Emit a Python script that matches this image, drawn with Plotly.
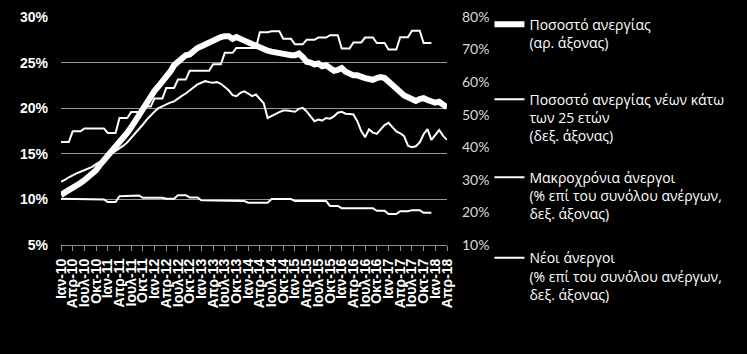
import plotly.graph_objects as go

month_abbr = ["Ιαν", "Φεβ", "Μαρ", "Απρ", "Μαϊ", "Ιουν", "Ιουλ", "Αυγ", "Σεπ", "Οκτ", "Νοε", "Δεκ"]
months = [f"{month_abbr[i % 12]}-{10 + i // 12}" for i in range(100)]
tick_labels = months[::3]

# Unemployment rate (left axis), monthly Jan-10 .. Apr-18
unemployment = [
    10.5, 10.8, 11.1, 11.4, 11.6, 11.8, 12.1, 12.4, 12.8, 13.2, 13.8, 14.3,
    14.8, 15.2, 15.7, 16.1, 16.7, 17.3, 17.9, 18.6, 19.4, 20.1, 20.7, 21.4,
    21.9, 22.4, 22.9, 23.4, 24.0, 24.7, 25.1, 25.3, 25.8, 25.9, 26.3, 26.6,
    26.8, 27.0, 27.3, 27.5, 27.7, 27.8, 27.9, 27.9, 27.6, 27.8, 27.6, 27.4,
    27.2, 27.0, 26.8, 26.6, 26.4, 26.3, 26.2, 26.1, 26.0, 25.9, 25.8, 25.8,
    25.8, 26.0, 25.6, 25.1, 25.0, 24.8, 24.9, 24.6, 24.7, 24.4, 24.1, 24.2,
    24.4, 24.0, 23.8, 23.6, 23.6, 23.4, 23.3, 23.2, 23.1, 23.3, 23.4, 23.3,
    22.9, 22.4, 22.1, 21.8, 21.4, 21.2, 20.9, 20.8, 21.0, 21.1, 20.9, 20.8,
    20.6, 20.7, 20.3, 20.1,
]

# Youth (<25) unemployment rate (right axis), monthly
youth = [
    29.5, 30.0, 30.8, 31.5, 32.0, 32.5, 33.0, 33.5, 34.0, 34.8, 35.5, 36.5,
    37.3, 38.0, 38.8, 39.6, 40.5, 41.5, 42.8, 44.2, 45.5, 47.0, 48.5, 49.8,
    51.0, 52.0, 52.6, 53.2, 53.7, 54.1, 55.0, 55.8, 56.5, 57.5, 58.3, 59.3,
    59.8, 60.3, 60.0, 59.8, 60.0, 59.5, 58.5, 57.5, 56.0, 55.7, 56.7, 57.2,
    56.5, 55.7, 56.2, 55.0, 53.5, 49.0, 49.5, 50.2, 50.8, 51.3, 51.3, 51.0,
    50.9, 51.8, 52.1, 51.0, 49.5, 48.0, 48.5, 48.2, 49.0, 48.8, 49.5, 50.6,
    50.9, 50.3, 50.2, 50.1, 48.0, 45.0, 43.1, 45.5, 44.5, 44.1, 45.5, 46.8,
    47.5, 46.2, 44.9, 44.3, 43.4, 40.5, 40.0, 40.3, 41.5, 44.0, 45.6, 42.3,
    44.0, 45.3, 43.5, 42.3,
]

# Long-term unemployed (% of total unemployed, right axis), quarterly values shown monthly
long_term = [
    41.6, 41.6, 41.6, 44.9, 44.9, 44.9, 45.8, 45.8, 45.8, 45.8, 45.8, 45.8,
    44.4, 44.4, 44.4, 49.0, 49.0, 49.0, 50.8, 50.8, 50.8, 52.5, 52.5, 52.5,
    55.0, 55.0, 55.0, 58.2, 58.2, 58.2, 60.8, 60.8, 60.8, 63.5, 63.5, 63.5,
    63.5, 63.5, 63.5, 65.5, 65.5, 65.5, 69.0, 69.0, 69.0, 70.5, 70.5, 70.5,
    70.5, 70.5, 70.5, 75.3, 75.3, 75.3, 75.6, 75.6, 75.6, 73.3, 73.3, 73.3,
    71.6, 71.6, 71.6, 73.0, 73.0, 73.0, 73.7, 73.7, 73.7, 74.4, 74.4, 74.4,
    70.3, 70.3, 70.3, 72.2, 72.2, 72.2, 73.7, 73.7, 73.7, 72.0, 72.0, 72.0,
    70.0, 70.0, 70.0, 73.8, 73.8, 73.8, 75.8, 75.8, 75.8, 72.0, 72.0, 72.0,
]

# Young unemployed (% of total unemployed, right axis), quarterly values shown monthly
young = [
    24.2, 24.2, 24.2, 24.0, 24.0, 24.0, 24.0, 24.0, 24.0, 24.0, 24.0, 24.0,
    23.2, 23.2, 23.2, 25.0, 25.0, 25.0, 25.2, 25.2, 25.2, 24.5, 24.5, 24.5,
    24.5, 24.5, 24.5, 24.2, 24.2, 24.2, 25.3, 25.3, 25.3, 24.6, 24.6, 24.6,
    23.7, 23.7, 23.7, 23.7, 23.7, 23.7, 23.7, 23.7, 23.7, 23.5, 23.5, 23.5,
    23.0, 23.0, 23.0, 23.0, 23.0, 23.0, 24.1, 24.1, 24.1, 24.1, 24.1, 24.1,
    23.5, 23.5, 23.5, 23.5, 23.5, 23.5, 23.5, 23.5, 23.5, 22.0, 22.0, 22.0,
    21.3, 21.3, 21.3, 21.3, 21.3, 21.3, 21.3, 21.3, 21.3, 20.5, 20.5, 20.5,
    19.5, 19.5, 19.5, 20.4, 20.4, 20.4, 20.7, 20.7, 20.7, 19.9, 19.9, 19.9,
]

names = [
    "Ποσοστό ανεργίας<br>(αρ. άξονας)",
    "Ποσοστό ανεργίας νέων κάτω<br>των 25 ετών<br>(δεξ. άξονας)",
    "Μακροχρόνια άνεργοι<br>(% επί του συνόλου ανέργων,<br>δεξ. άξονας)",
    "Νέοι άνεργοι<br>(% επί του συνόλου ανέργων,<br>δεξ. άξονας)",
]

fig = go.Figure()
fig.add_trace(go.Scatter(x=months[:96], y=young, name=names[3], yaxis="y2", mode="lines",
                         line=dict(color="white", width=2), legend="legend4"))
fig.add_trace(go.Scatter(x=months[:96], y=long_term, name=names[2], yaxis="y2", mode="lines",
                         line=dict(color="white", width=2), legend="legend3"))
fig.add_trace(go.Scatter(x=months, y=youth, name=names[1], yaxis="y2", mode="lines",
                         line=dict(color="white", width=2), legend="legend2"))
fig.add_trace(go.Scatter(x=months, y=unemployment, name=names[0], yaxis="y", mode="lines",
                         line=dict(color="white", width=6), legend="legend"))

legend_font = dict(family="Open Sans, Noto Sans", size=14, color="white")


def legend_at(ytop):
    return dict(
        x=1.11, xanchor="left", y=ytop, yanchor="top",
        font=legend_font, bgcolor="rgba(0,0,0,0)", valign="top",
        itemwidth=30, maxheight=354,
    )


fig.update_layout(
    width=747, height=354,
    paper_bgcolor="black", plot_bgcolor="black",
    margin=dict(l=61, r=300, t=17, b=109, autoexpand=False),
    xaxis=dict(
        type="category", range=[0, 99],
        tickmode="array", tickvals=tick_labels, ticktext=tick_labels,
        tickangle=-90, ticks="outside", ticklen=5, tickcolor="#8c8c8c",
        showline=True, linecolor="#8c8c8c", linewidth=1, showgrid=False,
        tickfont=dict(family="Arial, Liberation Sans", size=14, color="white", weight="bold"),
        ticklabelstandoff=2,
    ),
    yaxis=dict(
        range=[5, 30], dtick=5, ticksuffix="%", showgrid=True, gridcolor="#999999", gridwidth=1,
        zeroline=False, showline=False,
        tickfont=dict(family="Arial, Liberation Sans", size=14, color="white", weight="bold"),
        ticklabelstandoff=12,
    ),
    yaxis2=dict(
        range=[10, 80], dtick=10, ticksuffix="%", overlaying="y", side="right", showgrid=False,
        zeroline=False, showline=False,
        tickfont=dict(family="Lato, Open Sans", size=14, color="#d9d9d9"),
        ticklabelstandoff=14,
    ),
    showlegend=True,
    legend=legend_at(1.037),
    legend2=legend_at(0.708),
    legend3=legend_at(0.366),
    legend4=legend_at(0.012),
)

fig.write_html("out.html")
